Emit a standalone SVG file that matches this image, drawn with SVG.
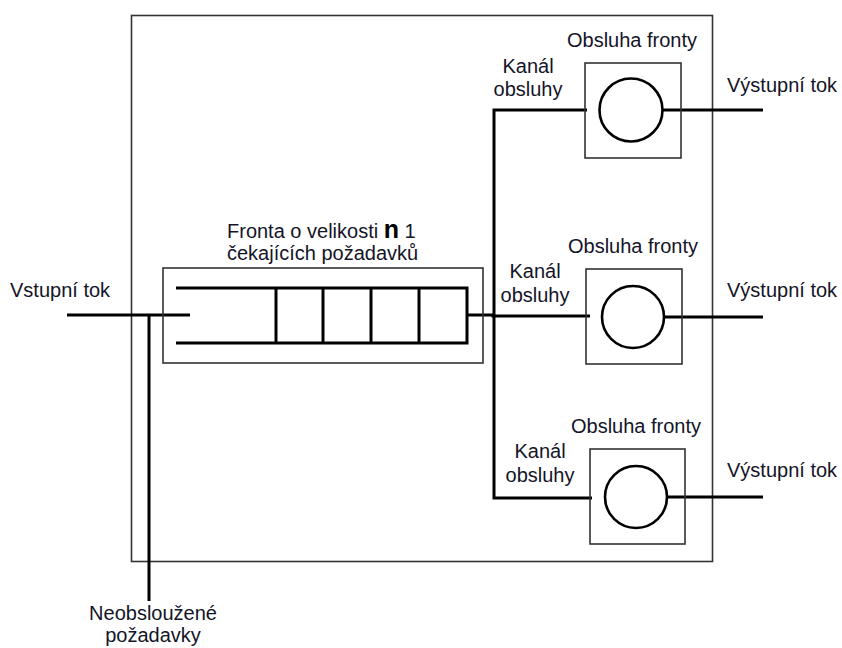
<svg xmlns="http://www.w3.org/2000/svg" width="842" height="648" viewBox="0 0 842 648">
<style>
text{font-family:"Liberation Sans",Arial,sans-serif;font-size:20px;fill:#141428}
.c{text-anchor:middle}
.frame{fill:none;stroke:#333;stroke-width:1.6}
.thick{fill:none;stroke:#000;stroke-width:3}
.circ{fill:#fff;stroke:#000;stroke-width:2.6}
</style>
<rect width="842" height="648" fill="#fff"/>
<g id="system">
<rect class="frame" x="131.5" y="15.5" width="581" height="546"/>
</g>
<g id="connectors">
<line class="thick" x1="67" y1="315" x2="190" y2="315"/>
<line class="thick" x1="149" y1="315" x2="149" y2="601"/>
<polyline class="thick" points="467,315 493,315 493,316 590,316"/>
<polyline class="thick" points="587,110 494,110 494,498 592,498"/>
<line class="thick" x1="663" y1="110" x2="763" y2="110"/>
<line class="thick" x1="665" y1="317" x2="763" y2="317"/>
<line class="thick" x1="668" y1="497" x2="763" y2="497"/>
</g>
<g id="queue">
<rect class="frame" x="163" y="268" width="320" height="95"/>
<polyline class="thick" points="176,288 467,288 467,343 176,343"/>
<line class="thick" x1="276" y1="288" x2="276" y2="343"/>
<line class="thick" x1="323" y1="288" x2="323" y2="343"/>
<line class="thick" x1="371" y1="288" x2="371" y2="343"/>
<line class="thick" x1="419" y1="288" x2="419" y2="343"/>
<text x="227" y="238" font-size="19">Fronta o velikosti <tspan font-weight="bold" font-size="25" fill="#000">n</tspan> 1</text>
<text x="227" y="260">čekajících požadavků</text>
</g>
<g id="input">
<text x="10" y="297">Vstupní tok</text>
</g>
<g id="rejected">
<text class="c" x="153" y="620">Neobsloužené</text>
<text class="c" x="153" y="642">požadavky</text>
</g>
<g id="server1">
<rect class="frame" x="585" y="63" width="96" height="95"/>
<circle class="circ" cx="631" cy="110" r="31.5"/>
<text class="c" x="632" y="47">Obsluha fronty</text>
<text class="c" x="528" y="73">Kanál</text>
<text class="c" x="528" y="96">obsluhy</text>
<text x="727" y="92">Výstupní tok</text>
</g>
<g id="server2">
<rect class="frame" x="586" y="269" width="96" height="95"/>
<circle class="circ" cx="633" cy="317" r="31"/>
<text class="c" x="633" y="253">Obsluha fronty</text>
<text class="c" x="535" y="278">Kanál</text>
<text class="c" x="535" y="302">obsluhy</text>
<text x="727" y="297">Výstupní tok</text>
</g>
<g id="server3">
<rect class="frame" x="590" y="449" width="95" height="95"/>
<circle class="circ" cx="636" cy="497" r="31"/>
<text class="c" x="636" y="433">Obsluha fronty</text>
<text class="c" x="540" y="458">Kanál</text>
<text class="c" x="540" y="482">obsluhy</text>
<text x="727" y="477">Výstupní tok</text>
</g>
</svg>
